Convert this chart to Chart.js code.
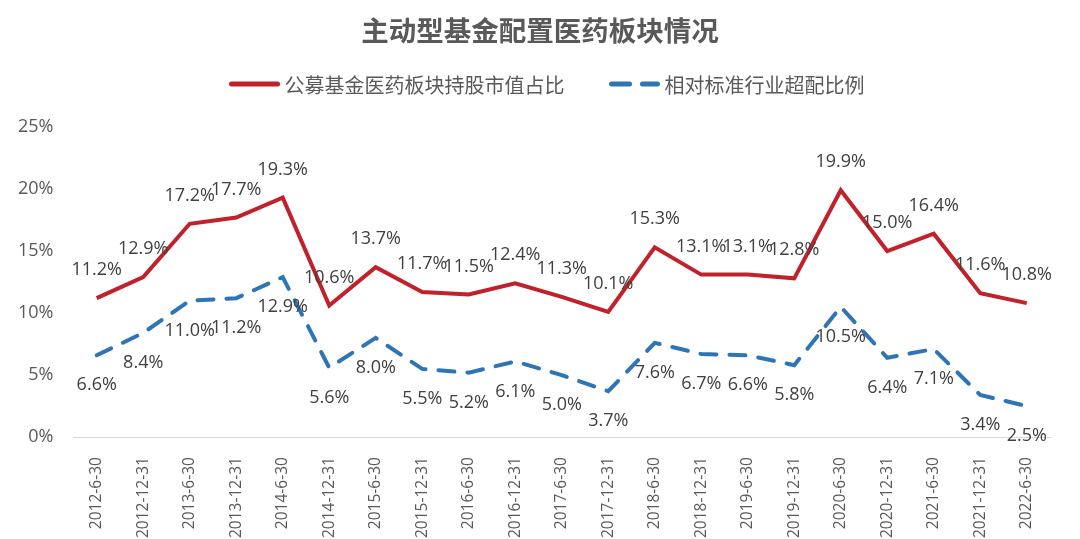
<!DOCTYPE html>
<html><head><meta charset="utf-8">
<script src="https://cdn.jsdelivr.net/npm/chart.js@4/dist/chart.umd.min.js"></script>
<style>html,body{margin:0;padding:0;background:#fff}#wrap{width:1080px;height:539px}</style>
</head><body><div id="wrap"><canvas id="c"></canvas></div>
<script>
const categories = ["2012-6-30","2012-12-31","2013-6-30","2013-12-31","2014-6-30","2014-12-31","2015-6-30","2015-12-31","2016-6-30","2016-12-31","2017-6-30","2017-12-31","2018-6-30","2018-12-31","2019-6-30","2019-12-31","2020-6-30","2020-12-31","2021-6-30","2021-12-31","2022-6-30"];
const holdingShare = [11.2,12.9,17.2,17.7,19.3,10.6,13.7,11.7,11.5,12.4,11.3,10.1,15.3,13.1,13.1,12.8,19.9,15.0,16.4,11.6,10.8];
const overweight = [6.6,8.4,11.0,11.2,12.9,5.6,8.0,5.5,5.2,6.1,5.0,3.7,7.6,6.7,6.6,5.8,10.5,6.4,7.1,3.4,2.5];
const yTicks = [0,5,10,15,20,25];
const seriesNames = ["公募基金医药板块持股市值占比","相对标准行业超配比例"];
const titleText = "主动型基金配置医药板块情况";

const FONT = "'Open Sans','Noto Sans CJK SC',sans-serif";
const CJK = "'Noto Sans CJK SC','Open Sans',sans-serif";

const labelPlugin = {
  id: 'valLabels',
  afterDatasetsDraw(chart) {
    const ctx = chart.ctx;
    ctx.save();
    ctx.font = "18px " + FONT;
    ctx.fillStyle = "#404040";
    ctx.textAlign = "center";
    ctx.textBaseline = "middle";
    chart.data.datasets.forEach((ds, i) => {
      const meta = chart.getDatasetMeta(i);
      const off = i === 0 ? -28 : 30;
      meta.data.forEach((pt, j) => {
        ctx.fillText(ds.data[j].toFixed(1) + "%", pt.x, pt.y + off);
      });
    });
    ctx.restore();
  }
};

const headerPlugin = {
  id: 'header',
  afterDraw(chart) {
    const ctx = chart.ctx;
    ctx.save();
    ctx.font = "bold 27.5px " + CJK;
    ctx.fillStyle = '#595959';
    ctx.textAlign = 'center';
    ctx.textBaseline = 'middle';
    ctx.fillText(titleText, chart.width / 2, 31);
    ctx.font = "20px " + CJK;
    const lineW = 50, gapT = 5, gapItem = 45;
    const ds = chart.data.datasets;
    const widths = ds.map(d => ctx.measureText(d.label).width);
    const total = ds.reduce((s, d, i) => s + lineW + gapT + widths[i], 0) + gapItem * (ds.length - 1);
    let x = chart.width / 2 - total / 2 + 7;
    const y = 84;
    ds.forEach((d, i) => {
      ctx.strokeStyle = d.borderColor;
      ctx.lineWidth = 5;
      ctx.lineCap = 'round';
      ctx.setLineDash(d.borderDash ? [18, 13] : []);
      ctx.beginPath();
      ctx.moveTo(x + 2, y);
      ctx.lineTo(x + lineW - 2, y);
      ctx.stroke();
      ctx.setLineDash([]);
      ctx.fillStyle = '#595959';
      ctx.textAlign = 'left';
      ctx.fillText(d.label, x + lineW + gapT, y + 1);
      x += lineW + gapT + widths[i] + gapItem;
    });
    ctx.restore();
  }
};

new Chart(document.getElementById('c'), {
  type: 'line',
  data: {
    labels: categories,
    datasets: [
      {label: seriesNames[0], data: holdingShare, borderColor: '#C0212B', backgroundColor: '#C0212B', borderWidth: 4, pointRadius: 0, tension: 0},
      {label: seriesNames[1], data: overweight, borderColor: '#2E75B6', backgroundColor: '#2E75B6', borderWidth: 4, borderDash: [16, 13], borderCapStyle: 'round', pointRadius: 0, tension: 0}
    ]
  },
  options: {
    responsive: true,
    maintainAspectRatio: false,
    animation: false,
    layout: {padding: {left: 6, right: 30, top: 127, bottom: -11}},
    plugins: {
      title: {display: false},
      legend: {display: false},
      tooltip: {enabled: false}
    },
    scales: {
      x: {
        offset: true,
        grid: {display: false},
        border: {display: true, color: '#D9D9D9', width: 1},
        ticks: {minRotation: 90, maxRotation: 90, autoSkip: false, color: '#595959', font: {family: FONT, size: 15.5}, padding: 12}
      },
      y: {
        min: 0, max: 25,
        afterBuildTicks(axis) { axis.ticks = yTicks.map(v => ({value: v})); },
        grid: {display: false},
        border: {display: false},
        ticks: {color: '#595959', font: {family: FONT, size: 18}, padding: 12, callback: v => v + '%'}
      }
    }
  },
  plugins: [labelPlugin, headerPlugin]
});
</script></body></html>
